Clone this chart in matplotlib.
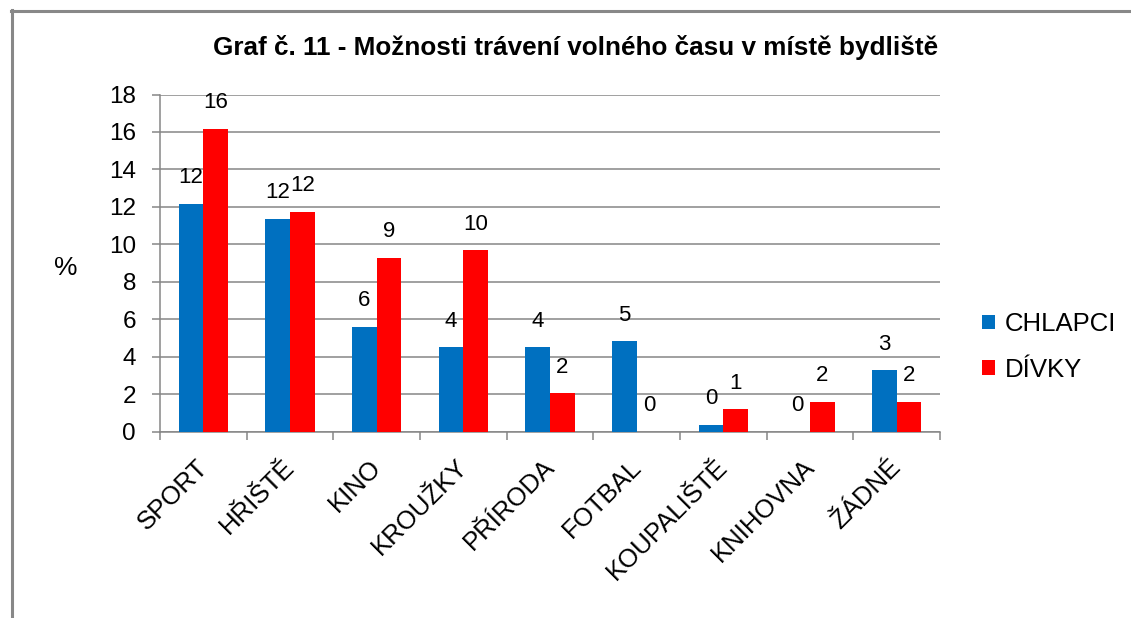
import matplotlib
matplotlib.use("Agg")
import matplotlib.pyplot as plt
import numpy as np

categories = ["SPORT", "HŘIŠTĚ", "KINO", "KROUŽKY", "PŘÍRODA", "FOTBAL",
              "KOUPALIŠTĚ", "KNIHOVNA", "ŽÁDNÉ"]
chlapci = [12.15, 11.37, 5.6, 4.49, 4.49, 4.81, 0.37, 0.0, 3.26]
divky = [16.17, 11.73, 9.25, 9.67, 2.03, 0.0, 1.18, 1.6, 1.6]
chlapci_labels = ["12", "12", "6", "4", "4", "5", "0", "0", "3"]
divky_labels = ["16", "12", "9", "10", "2", "0", "1", "2", "2"]
yticks = [0, 2, 4, 6, 8, 10, 12, 14, 16, 18]
title = "Graf č. 11 - Možnosti trávení volného času v místě bydliště"

plt.rcParams['font.family'] = ['Liberation Sans', 'DejaVu Sans']

W, H = 1131, 618
fig = plt.figure(figsize=(W / 100, H / 100), dpi=100)
ax = fig.add_axes([160 / W, 1 - 431.5 / H, 780 / W, (431.5 - 94.5) / H])

blue = "#0070C0"
red = "#FF0000"
grid_c = "#868686"

x = np.arange(len(categories))
bw = 0.283
b1 = ax.bar(x - bw / 2, chlapci, bw, color=blue, label="CHLAPCI", zorder=3)
b2 = ax.bar(x + bw / 2, divky, bw, color=red, label="DÍVKY", zorder=3)

for rects, labs in ((b1, chlapci_labels), (b2, divky_labels)):
    for r, lab in zip(rects, labs):
        ax.annotate(lab, xy=(r.get_x() + r.get_width() / 2, r.get_height()),
                    xytext=(0, 19), textcoords="offset points",
                    ha="center", va="center", fontsize=16, color="black", zorder=4)

ax.set_xlim(-0.5, len(categories) - 0.5)
ax.set_ylim(0, 18)
ax.set_yticks(yticks)
ax.set_yticklabels([str(v) for v in yticks], fontsize=17.5)
ax.yaxis.grid(True, color=grid_c, linewidth=1.1, zorder=0)

ax.set_xticks(np.arange(-0.5, len(categories), 1.0))
ax.set_xticklabels([])
ax.tick_params(axis="x", direction="out", length=5.8, width=1.1, color=grid_c)
ax.tick_params(axis="y", direction="out", length=5.8, width=1.1, color=grid_c, pad=11.5)

for i, c in enumerate(categories):
    ax.annotate(c, xy=(i, 0), xycoords="data", xytext=(0.5, -23),
                textcoords="offset points", ha="right", va="center",
                rotation=45, rotation_mode="anchor", fontsize=18.5, annotation_clip=False)

for s in ["top", "right"]:
    ax.spines[s].set_visible(False)
for s in ["left", "bottom"]:
    ax.spines[s].set_color(grid_c)
    ax.spines[s].set_linewidth(1.1)

fig.text(576 / W, 1 - 47 / H, title, ha="center", va="center",
         fontsize=18.8, fontweight="bold")
fig.text(66 / W, 1 - 268 / H, "%", ha="center", va="center", fontsize=19)

leg = fig.legend(handles=[b1, b2], loc="center left",
                 bbox_to_anchor=(969 / W, 1 - 347 / H), frameon=False,
                 fontsize=18.5, handlelength=0.5, handleheight=0.5,
                 handletextpad=0.4, labelspacing=0.85, borderpad=0)

# outer frame (top and left edges)
fig.add_artist(plt.Line2D([11 / W, 1], [1 - 10.5 / H, 1 - 10.5 / H],
                          transform=fig.transFigure, color="#888888", linewidth=2.2))
fig.add_artist(plt.Line2D([11.5 / W, 11.5 / W], [0, 1 - 9.5 / H],
                          transform=fig.transFigure, color="#888888", linewidth=2.2))

fig.savefig("out.png", dpi=100)
